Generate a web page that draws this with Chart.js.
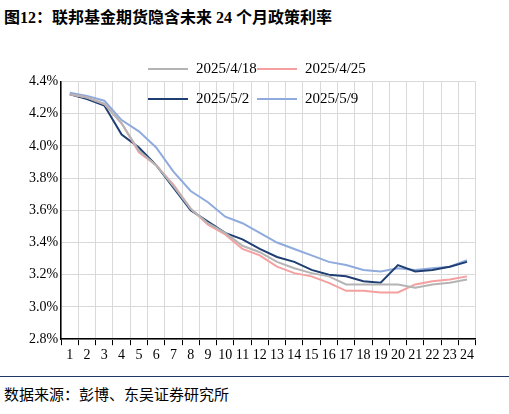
<!DOCTYPE html><html><head><meta charset="utf-8">
<script src="https://cdn.jsdelivr.net/npm/chart.js@4"></script>
<style>
body{margin:0;width:509px;height:414px;background:#fff;font-family:"Liberation Serif","Noto Sans CJK SC",serif;position:relative;overflow:hidden}
#t{position:absolute;left:4px;top:4px;font-size:16px;font-weight:bold;color:#000;font-family:"Liberation Serif","Noto Sans CJK SC"}
#l2{position:absolute;left:0;right:0;top:376px;border-top:1px solid #1f3864}
#s{position:absolute;left:4px;top:383px;font-size:15px;color:#000;font-family:"Noto Sans CJK SC"}
#c{position:absolute;left:26px;top:70px;width:450px;height:296px}
.lg{position:absolute;font-size:15px;color:#000;display:flex;align-items:center}
.lg span{display:inline-block;width:40px;height:0;border-top:2.5px solid;margin-right:8px}
</style></head><body>
<div id="t">图12：联邦基金期货隐含未来 24 个月政策利率</div>
<div id="c"><canvas id="cv"></canvas></div>
<div class="lg" style="left:148px;top:60px"><span style="border-color:#b4b4b4"></span>2025/4/18</div>
<div class="lg" style="left:257px;top:60px"><span style="border-color:#f4a0a0"></span>2025/4/25</div>
<div class="lg" style="left:148px;top:90px"><span style="border-color:#1f3f73"></span>2025/5/2</div>
<div class="lg" style="left:257px;top:90px"><span style="border-color:#8faadc"></span>2025/5/9</div>
<div id="l2"></div><div id="s">数据来源：彭博、东吴证券研究所</div>
<script>
const labels=Array.from({length:24},(_,i)=>String(i+1));
const s0418=[4.32,4.30,4.26,4.14,3.97,3.88,3.75,3.61,3.52,3.46,3.38,3.34,3.28,3.24,3.21,3.19,3.14,3.14,3.14,3.14,3.12,3.14,3.15,3.17];
const s0425=[4.32,4.30,4.26,4.14,3.96,3.88,3.76,3.61,3.51,3.45,3.36,3.32,3.25,3.21,3.19,3.15,3.10,3.10,3.09,3.09,3.14,3.16,3.17,3.19];
const s0502=[4.32,4.29,4.25,4.07,3.99,3.88,3.74,3.60,3.53,3.46,3.42,3.36,3.31,3.28,3.23,3.20,3.19,3.16,3.15,3.26,3.22,3.23,3.25,3.28];
const s0509=[4.33,4.31,4.28,4.16,4.09,3.99,3.84,3.72,3.65,3.56,3.52,3.46,3.40,3.36,3.32,3.28,3.26,3.23,3.22,3.24,3.23,3.24,3.25,3.29];
const ds=(l,d,c)=>({label:l,data:d,borderColor:c,borderWidth:2,pointRadius:0,tension:0,fill:false});
new Chart(document.getElementById('cv'),{type:'line',data:{labels,datasets:[ds('2025/4/18',s0418,'#b4b4b4'),ds('2025/4/25',s0425,'#f4a0a0'),ds('2025/5/2',s0502,'#1f3f73'),ds('2025/5/9',s0509,'#8faadc')]},
options:{responsive:true,maintainAspectRatio:false,animation:false,layout:{padding:{left:0,right:0,top:10,bottom:0}},
plugins:{legend:{display:false},tooltip:{enabled:false}},
scales:{x:{offset:true,grid:{offset:true,color:'#d9d9d9',drawTicks:true,tickColor:'#000',tickLength:6},border:{color:'#000',width:1.5},ticks:{color:'#000',font:{family:'Liberation Serif',size:14},maxRotation:0,autoSkip:false,padding:2}},
y:{min:2.8,max:4.4,ticks:{stepSize:0.2,color:'#000',font:{family:'Liberation Serif',size:14},callback:v=>v.toFixed(1)+'%'},grid:{color:'#d9d9d9',drawTicks:false},border:{color:'#000',width:1.5}}}}});
</script></body></html>
